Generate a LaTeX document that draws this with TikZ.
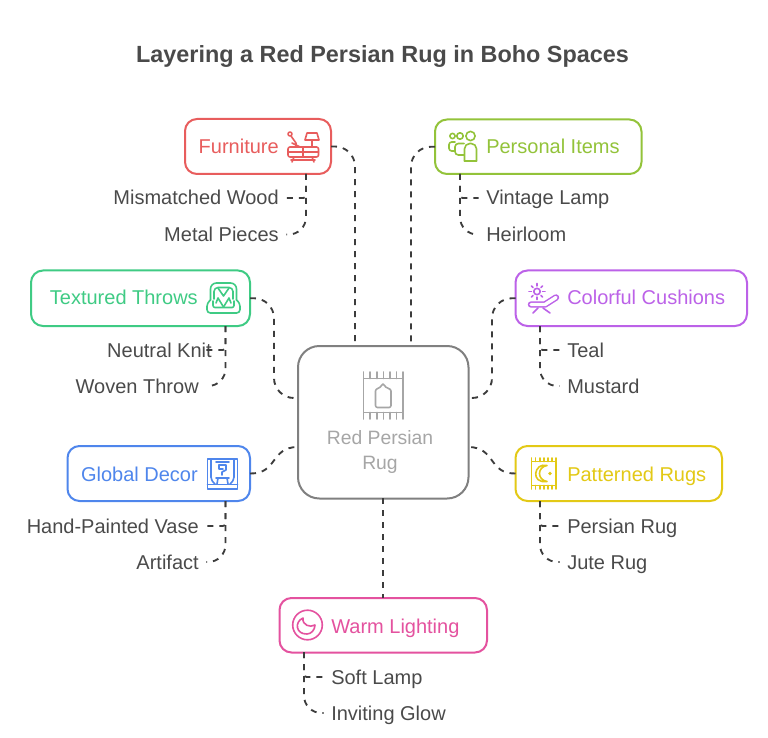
\documentclass[tikz,border=0pt]{standalone}
\usepackage{fontspec}
\setmainfont{Liberation Sans}
\usetikzlibrary{calc}
\definecolor{cred}{HTML}{E85D5D}
\definecolor{clime}{HTML}{93C33A}
\definecolor{cgreen}{HTML}{3FCB84}
\definecolor{cpurple}{HTML}{BC62E8}
\definecolor{cblue}{HTML}{4F86EC}
\definecolor{cyel}{HTML}{E3C916}
\definecolor{cpink}{HTML}{E4529F}
\definecolor{cgrey}{HTML}{A6A6A6}
\definecolor{cedge}{HTML}{808080}
\definecolor{ctext}{HTML}{4A4A4A}
\definecolor{cconn}{HTML}{3C3C3C}
\tikzset{
  box/.style={draw=#1,line width=1.5pt,rounded corners=9pt,fill=white,inner sep=0pt,outer sep=0pt,anchor=north west},
  hub/.style={draw=cedge,line width=1.5pt,rounded corners=16pt,fill=white,inner sep=0pt,outer sep=0pt,anchor=north west},
  head/.style={text=#1,font=\fontsize{15}{18}\selectfont,inner sep=0pt,text height=12pt,text depth=1.5pt},
  leaf/.style={text=ctext,font=\fontsize{15}{18}\selectfont,inner sep=0pt,text height=12pt,text depth=1.5pt},
  hubtext/.style={text=cgrey,font=\fontsize{14.5}{18}\selectfont,inner sep=0pt,text height=12pt,text depth=1.5pt},
  conn/.style={draw=cconn,line width=1.4pt,dash pattern=on 4.5pt off 4.5pt},
  ico/.style={draw=#1,line width=1.2pt,line join=round,line cap=round,fill=none},
}
\newcommand{\bx}[6]{\node[box=#2,minimum width={(#5-#3)*0.75pt},minimum height={(#6-#4)*0.75pt}] (#1) at (#3,#4) {};}
\begin{document}
\begin{tikzpicture}[x=0.75pt,y=-0.75pt]
\useasboundingbox (0,0) rectangle (768,738);
\node[text=ctext,font=\bfseries\fontsize{17.55}{22}\selectfont,inner sep=0pt,text height=15pt,text depth=1.5pt] (title) at (382.5,54) {Layering a Red Persian Rug in Boho Spaces};

% anchor points on the hub
\coordinate (hubTopL) at (355,346);
\coordinate (hubTopR) at (411,346);
\coordinate (hubLU) at (298,398);
\coordinate (hubLD) at (298,447);
\coordinate (hubRU) at (468,398);
\coordinate (hubRD) at (468,447);
\coordinate (hubB) at (383,498);
\coordinate (warmT) at (383,598);
\coordinate (midTL) at (274,348);
\coordinate (midTR) at (492,348);

% spine starts
\coordinate (furS) at (306,174);
\coordinate (perS) at (460,174);
\coordinate (texS) at (225.5,326);
\coordinate (colS) at (540,326);
\coordinate (gloS) at (225.5,501);
\coordinate (patS) at (540,501);
\coordinate (warS) at (304,652);

% boxes
\bx{fur}{cred}{185}{119}{331}{174}
\bx{per}{clime}{435}{119.5}{641.5}{174}
\bx{tex}{cgreen}{31}{270.5}{250}{326}
\bx{col}{cpurple}{515.5}{270.5}{747}{326}
\bx{glo}{cblue}{67.5}{446}{250}{501}
\bx{pat}{cyel}{515.5}{446}{722}{501}
\bx{war}{cpink}{279.5}{598}{487}{652.5}
\node[hub,minimum width={170.5*0.75pt},minimum height={152.5*0.75pt}] (hubn) at (298,346) {};

% labels
\node[head=cred,anchor=east] (furL) at (279,146.5) {Furniture};
\node[head=clime,anchor=west] (perL) at (486,146.5) {Personal Items};
\node[head=cgreen,anchor=east] (texL) at (198,298) {Textured Throws};
\node[head=cpurple,anchor=west] (colL) at (567,298) {Colorful Cushions};
\node[head=cblue,anchor=east] (gloL) at (198,474) {Global Decor};
\node[head=cyel,anchor=west] (patL) at (567,474) {Patterned Rugs};
\node[head=cpink,anchor=west] (warL) at (331,626) {Warm Lighting};
\node[hubtext] (hubL1) at (380,437.5) {Red Persian};
\node[hubtext] (hubL2) at (380,462) {Rug};

\node[leaf,anchor=east] (f1) at (279,198) {Mismatched Wood};
\node[leaf,anchor=east] (f2) at (279,234.5) {Metal Pieces};
\node[leaf,anchor=west] (p1) at (486,198) {Vintage Lamp};
\node[leaf,anchor=west] (p2) at (486,234.5) {Heirloom};
\node[leaf,anchor=east] (t1) at (212,350) {Neutral Knit};
\node[leaf,anchor=east] (t2) at (199,386) {Woven Throw};
\node[leaf,anchor=west] (c1) at (567,350) {Teal};
\node[leaf,anchor=west] (c2) at (567,386) {Mustard};
\node[leaf,anchor=east] (g1) at (199,526) {Hand-Painted Vase};
\node[leaf,anchor=east] (g2) at (199,562) {Artifact};
\node[leaf,anchor=west] (r1) at (567,526) {Persian Rug};
\node[leaf,anchor=west] (r2) at (567,562) {Jute Rug};
\node[leaf,anchor=west] (w1) at (331,677) {Soft Lamp};
\node[leaf,anchor=west] (w2) at (331,713) {Inviting Glow};

% main connectors
\draw[conn,rounded corners=15pt] (fur.east) -| (hubTopL);
\draw[conn,rounded corners=15pt] (per.west) -| (hubTopR);
\draw[conn,rounded corners=15pt] (tex.east) -| (midTL) |- (hubLU);
\draw[conn,rounded corners=15pt] (col.west) -| (midTR) |- (hubRU);
\draw[conn] (glo.east) .. controls (278,474) and (270,447) .. (hubLD);
\draw[conn] (pat.west) .. controls (488,474) and (496,447) .. (hubRD);
\draw[conn] (hubB) -- (warmT);

% branch connectors
\draw[conn,rounded corners=2pt,shorten >=5.5pt] (furS) |- (f1.east);
\draw[conn,rounded corners=13pt,shorten >=5.5pt] (furS) |- (f2.east);
\draw[conn,rounded corners=2pt,shorten >=5.5pt] (perS) |- (p1.west);
\draw[conn,rounded corners=13pt,shorten >=5.5pt] (perS) |- (p2.west);
\draw[conn,rounded corners=2pt,shorten >=-5pt] (texS) |- (t1.east);
\draw[conn,rounded corners=13pt,shorten >=5.5pt] (texS) |- (t2.east);
\draw[conn,rounded corners=2pt,shorten >=5.5pt] (colS) |- (c1.west);
\draw[conn,rounded corners=13pt,shorten >=5.5pt] (colS) |- (c2.west);
\draw[conn,rounded corners=2pt,shorten >=5.5pt] (gloS) |- (g1.east);
\draw[conn,rounded corners=13pt,shorten >=5.5pt] (gloS) |- (g2.east);
\draw[conn,rounded corners=2pt,shorten >=5.5pt] (patS) |- (r1.west);
\draw[conn,rounded corners=13pt,shorten >=5.5pt] (patS) |- (r2.west);
\draw[conn,rounded corners=2pt,shorten >=5.5pt] (warS) |- (w1.west);
\draw[conn,rounded corners=13pt,shorten >=5.5pt] (warS) |- (w2.west);

% ---- icons ----
% furniture
\begin{scope}[ico=cred]
\draw (290,134) circle (2);
\draw (291,136) -- (296,143) -- (296,147);
\draw (292,143) -- (300,147);
\draw (307,133) -- (317,133) -- (319,140) -- (305,140) -- cycle;
\draw (312,140) -- (312,147);
\draw[rounded corners=1.5pt] (288,147) rectangle (318.5,157);
\draw (288,152) -- (318.5,152);
\draw (303,147) -- (303,157);
\draw (291,160) -- (315,160);
\draw (294,157) -- (292,162);
\draw (312,157) -- (314,162);
\end{scope}
% personal
\begin{scope}[ico=clime]
\draw (452.5,136) circle (2.6);
\draw (460,136) circle (3.2);
\draw (470.5,136) circle (4.6);
\draw[rounded corners=4pt] (464.5,161) -- (464.5,143.5) -- (476.5,143.5) -- (476.5,161);
\draw (464.5,161) -- (476.5,161);
\draw[rounded corners=2.5pt] (464,143.5) -- (455,143.5) -- (455,155) -- (464,155);
\draw[rounded corners=2pt] (455,142) -- (449,142) -- (449,151) -- (455,151);
\end{scope}
% textured throws
\begin{scope}[ico=cgreen]
\draw[rounded corners=4.5pt] (210.5,300) -- (210.5,283) -- (236.5,283) -- (236.5,300);
\draw[rounded corners=3pt] (214,299) -- (214,287.5) -- (233,287.5) -- (233,299);
\draw[rounded corners=2.5pt] (210.5,300) -- (207,303) -- (207,313) -- (240,313) -- (240,303) -- (236.5,300);
\draw[rounded corners=1.5pt] (213,301) -- (213,307.5) -- (234,307.5) -- (234,301);
\draw (218,288) -- (223.5,296) -- (229,288);
\draw (223.5,307) -- (218,298) -- (216,303);
\draw (223.5,307) -- (229,298) -- (231,303);
\end{scope}
% colorful cushions
\begin{scope}[ico=cpurple]
\draw (537,291.5) circle (3.2);
\foreach \a in {0,45,...,315}{\draw ($(537,291.5)+(\a:4.2pt)$) -- ($(537,291.5)+(\a:6pt)$);}
\draw[double=white,double distance=2.6pt,line width=1.1pt] (531,304.5) -- (545,304.5) -- (556,297.5);
\draw (538,308) -- (533,313);
\draw (543,308) -- (550,313);
\end{scope}
% global decor
\begin{scope}[ico=cblue]
\draw (207.5,459) rectangle (237.5,489);
\draw (207.5,484.5) -- (237.5,484.5);
\draw (211,459) -- (211,477) (234,459) -- (234,477);
\draw (216,462) -- (229,462);
\draw (219,465) -- (226,465) -- (226,470) -- (222,472) -- (222,475);
\draw (219,465) -- (219,469) -- (223,469);
\draw (216,478) -- (229,478);
\draw (218,478) -- (217,484) (227,478) -- (228,484);
\draw (211,477) .. controls (212,481) .. (215,484);
\draw (234,477) .. controls (233,481) .. (230,484);
\end{scope}
% patterned rugs
\begin{scope}[ico=cyel]
\draw (531.5,461.5) rectangle (556,485.5);
\foreach \x in {531.5,535.6,...,556.5}{\draw (\x,458) -- (\x,461.5) (\x,485.5) -- (\x,489);}
\draw (547,465.5) .. controls (534,462) and (530,484) .. (547,481.5) .. controls (537,480) and (537,467) .. (547,465.5) -- cycle;
\fill[cyel] (550,473.5) circle (1.8);
\end{scope}
% warm lighting
\begin{scope}[ico=cpink]
\draw (307.5,625) circle (14.8);
\draw (303,618) .. controls (294,622) and (296,634.5) .. (307,634) .. controls (311,634) and (315,630) .. (315,625) .. controls (310,628) and (302,625) .. (303,618) -- cycle;
\end{scope}
% hub rug
\begin{scope}[ico=cgrey]
\draw (363.5,378.5) rectangle (403,412.5);
\foreach \x in {363.5,370.1,...,403.5}{\draw (\x,372) -- (\x,378.5) (\x,412.5) -- (\x,419);}
\draw[rounded corners=1.5pt] (375.5,407.5) -- (375.5,393) .. controls (375.5,388) and (380,389) .. (383,383) .. controls (386,389) and (391,388) .. (391,393) -- (391,407.5) -- cycle;
\end{scope}
\end{tikzpicture}
\end{document}
